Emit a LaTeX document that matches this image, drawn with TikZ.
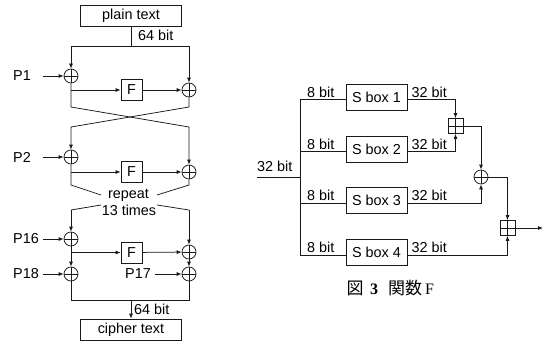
\documentclass[tikz,border=0pt]{standalone}
\usepackage{fontspec}
\setmainfont{Liberation Sans}
\newfontfamily\cjk{Noto Sans CJK JP}
\newfontfamily\ser{Liberation Serif}
\usetikzlibrary{arrows.meta}
\tikzset{
  ln/.style={line width=0.75pt, draw=black!90},
  arr/.style={ln, -{Latex[length=5pt,width=4pt]}},
  tbox/.style={draw, ln, rectangle, minimum width=101pt, minimum height=21pt, inner sep=0},
  fbox/.style={draw, ln, rectangle, minimum size=21pt, inner sep=0},
  sbox/.style={draw, ln, rectangle, minimum width=61pt, minimum height=26pt, inner sep=0},
  xor/.style={circle, draw, ln, minimum size=14pt, inner sep=0,
    path picture={\draw[ln] (path picture bounding box.north) -- (path picture bounding box.south)
      (path picture bounding box.west) -- (path picture bounding box.east);}},
  bplus/.style={rectangle, draw, ln, minimum size=15pt, inner sep=0,
    path picture={\draw[ln] (path picture bounding box.north) -- (path picture bounding box.south)
      (path picture bounding box.west) -- (path picture bounding box.east);}},
  lab/.style={inner sep=0},
}
\begin{document}
\begin{tikzpicture}[x=1pt, y=-1pt, font=\fontsize{14.4}{16}\selectfont]
\useasboundingbox (0,0) rectangle (545,342);
% ---------- left diagram ----------
\node[tbox] (plain) at (131,15.5) {plain text};
\coordinate (t1) at (131,46);
\node[xor] (x1L) at (71,76) {};
\node[xor] (x1R) at (189,90) {};
\node[fbox] (F1) at (131.5,90) {F};
\coordinate (b1) at (71,90);
\node[lab, anchor=west] (top64) at (138,35) {64 bit};
\draw[ln] (plain) -- (t1);
\draw[arr] (t1) -| (x1L);
\draw[arr] (t1) -| (x1R);
\node[lab, anchor=west] (P1) at (13,76) {P1};
\coordinate (a1) at (43,76);
\draw[arr] (a1) -- (x1L);
\draw[arr] (b1) -- (F1);
\draw[arr] (F1) -- (x1R);
% round 2
\node[xor] (x2L) at (71,157) {};
\node[xor] (x2R) at (189,172) {};
\node[fbox] (F2) at (131.5,172) {F};
\coordinate (b2) at (71,172);
\node[lab, anchor=west] (P2) at (13,157) {P2};
\coordinate (a2) at (43,157);
\draw[arr] (x1L) -- (71,107) -- (189,127) -- (x2R);
\draw[arr] (x1R) -- (189,107) -- (71,127) -- (x2L);
\draw[arr] (a2) -- (x2L);
\draw[arr] (b2) -- (F2);
\draw[arr] (F2) -- (x2R);
% repeat
\coordinate (c1) at (71,185);
\coordinate (c2) at (101,195);
\coordinate (c3) at (189,185);
\coordinate (c4) at (157,195);
\coordinate (d1) at (71,210);
\coordinate (d2) at (101,205);
\coordinate (d3) at (189,210);
\coordinate (d4) at (157,205);
\node[lab] (rep) at (128.5,195) {repeat};
\node[lab] (rep2) at (129,210.5) {13 times};
\draw[ln] (x2L) -- (c1) -- (c2);
\draw[ln] (x2R) -- (c3) -- (c4);
\draw[ln] (d2) -- (d1);
\draw[ln] (d4) -- (d3);
% round 16
\node[xor] (x16L) at (71,239) {};
\node[xor] (x16R) at (189,252) {};
\node[fbox] (F16) at (131.5,252.5) {F};
\coordinate (b16) at (71,252.5);
\node[lab, anchor=west] (P16) at (13,239) {P16};
\coordinate (a16) at (43,239);
\draw[arr] (d1) -- (x16L);
\draw[arr] (d3) -- (x16R);
\draw[arr] (a16) -- (x16L);
\draw[arr] (b16) -- (F16);
\draw[arr] (F16) -- (x16R);
% final
\node[xor] (x18) at (71,274) {};
\node[xor] (x17) at (189,274) {};
\node[lab, anchor=west] (P18) at (13,274) {P18};
\coordinate (a18) at (43,274);
\node[lab, anchor=west] (P17) at (125,274) {P17};
\coordinate (a17) at (155,274);
\draw[arr] (x16L) -- (x18);
\draw[arr] (x16R) -- (x17);
\draw[arr] (a18) -- (x18);
\draw[arr] (a17) -- (x17);
\coordinate (eL) at (71,300);
\coordinate (eR) at (189,300);
\coordinate (eM) at (131,300);
\draw[ln] (x18) -- (eL) -- (eR) -- (x17);
\node[tbox] (cipher) at (131,329.5) {cipher text};
\draw[arr] (eM) -- (cipher);
\node[lab, anchor=west] (bot64) at (134,309) {64 bit};
% ---------- right diagram ----------
\node[sbox] (S1) at (376.5,97) {S box 1};
\node[sbox] (S2) at (376.5,149) {S box 2};
\node[sbox] (S3) at (376.5,200.5) {S box 3};
\node[sbox] (S4) at (376.5,252.5) {S box 4};
\coordinate (bt) at (300,99.5);
\coordinate (bb) at (300,255);
\coordinate (in0) at (257,177);
\coordinate (in1) at (300,177);
\coordinate (l1) at (S1.west |- 0,99.5);
\coordinate (l2) at (S2.west |- 0,151.5);
\coordinate (l3) at (S3.west |- 0,203);
\coordinate (l4) at (S4.west |- 0,255);
\coordinate (r1) at (S1.east |- 0,99.5);
\coordinate (r2) at (S2.east |- 0,151.5);
\coordinate (r3) at (S3.east |- 0,203);
\coordinate (r4) at (S4.east |- 0,255);
\draw[ln] (l1) -- (bt) -- (bb) -- (l4);
\draw[ln] (l2) -- (l2 -| bt);
\draw[ln] (l3) -- (l3 -| bt);
\draw[ln] (in0) -- (in1);
\node[lab, anchor=south west] (in32) at (257,172) {32 bit};
\foreach \s in {l1,l2,l3,l4}{
  \node[lab, anchor=south west] at ([yshift=2pt] \s -| 307,0) {8 bit};
}
\foreach \s in {r1,r2,r3,r4}{
  \node[lab, anchor=south west] at ([xshift=4pt,yshift=2pt] \s) {32 bit};
}
\node[bplus] (BP1) at (455.5,126) {};
\node[xor] (X1) at (481,177) {};
\node[bplus] (BP2) at (507.5,228) {};
\coordinate (out) at (543,228);
\draw[arr] (r1) -| (BP1);
\draw[arr] (r2) -| (BP1);
\draw[arr] (BP1) -| (X1);
\draw[arr] (r3) -| (X1);
\draw[arr] (X1) -| (BP2);
\draw[arr] (r4) -| (BP2);
\draw[arr] (BP2) -- (out);
\node[lab, anchor=west, font=\fontsize{16}{18}\selectfont] (cap) at (346.5,288) {{\fontsize{17}{18}\selectfont\cjk 図}\hspace{6.5pt}{\ser\bfseries 3}\hspace{10pt}{\fontsize{17}{18}\selectfont\cjk 関数}\hspace{3pt}{\ser F}};
\end{tikzpicture}
\end{document}
